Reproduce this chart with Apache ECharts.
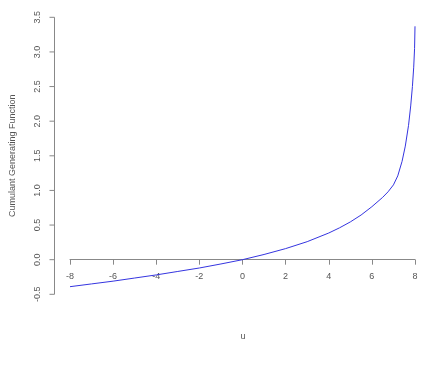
<!DOCTYPE html>
<html>
<head>
<meta charset="utf-8">
<script src="https://cdn.jsdelivr.net/npm/echarts@6/dist/echarts.min.js"></script>
<style>html,body{margin:0;padding:0;background:#fff;}#c{width:421px;height:365px;}</style>
</head>
<body>
<div id="c"></div>
<script>
var uValues = [-8, -7, -6, -5, -4, -3, -2, -1, 0, 1, 2, 3, 4, 4.5, 5, 5.5, 6, 6.5, 6.75, 7, 7.2, 7.4, 7.55, 7.7, 7.8, 7.88, 7.94, 7.98, 8];
var kValues = [-0.39, -0.35, -0.31, -0.265, -0.22, -0.17, -0.12, -0.062, 0, 0.075, 0.16, 0.26, 0.385, 0.46, 0.545, 0.645, 0.765, 0.9, 0.98, 1.08, 1.21, 1.42, 1.64, 1.94, 2.22, 2.5, 2.78, 3.05, 3.37];
var xTicks = [-8, -6, -4, -2, 0, 2, 4, 6, 8];
var yTicks = [-0.5, 0, 0.5, 1, 1.5, 2, 2.5, 3, 3.5];
var xLabel = 'u';
var yLabel = 'Cumulant Generating Function';

var pts = uValues.map(function (u, i) { return [u, kValues[i]]; });
var axisColor = '#888';
var textColor = '#555';
var font = 'Liberation Sans, Arial, sans-serif';
var gridTop = 17.3, gridBottom = 70.7, H = 365;
var plotH = H - gridTop - gridBottom;
var yMin = yTicks[0], yMax = yTicks[yTicks.length - 1];
var zeroOffset = -plotH * (0 - yMin) / (yMax - yMin);
// y-axis line and tick segments, built from the tick list (drawn through the side grid's scales)
var yAxisLinePts = [[1, yMin], [1, yMax]];
var yTickPts = [];
yTicks.forEach(function (t) { yTickPts.push([0, t], [1, t], '-'); });

var chart = echarts.init(document.getElementById('c'), null, {renderer: 'canvas'});
chart.setOption({
  animation: false,
  backgroundColor: '#fff',
  grid: [
    {left: 70, right: 6, top: gridTop, bottom: gridBottom, containLabel: false},
    {left: 49.5, width: 5, top: gridTop, bottom: gridBottom, containLabel: false}
  ],
  xAxis: [{
    gridIndex: 0, type: 'value', min: xTicks[0], max: xTicks[xTicks.length - 1], interval: 2,
    position: 'bottom', offset: zeroOffset,
    axisLine: {show: true, onZero: false, lineStyle: {color: axisColor, width: 1}},
    axisTick: {show: true, length: 5, lineStyle: {color: axisColor}},
    axisLabel: {margin: 12, fontSize: 9, color: textColor, fontFamily: font},
    splitLine: {show: false}
  }, {
    gridIndex: 1, type: 'value', min: 0, max: 1, interval: 1,
    axisLine: {show: false}, axisTick: {show: false}, axisLabel: {show: false}, splitLine: {show: false}
  }],
  yAxis: [{
    gridIndex: 0, type: 'value', min: yMin, max: yMax, interval: 0.5, show: false
  }, {
    gridIndex: 1, type: 'value', min: yMin, max: yMax, interval: 0.5,
    position: 'left',
    axisLine: {show: false}, axisTick: {show: false},
    axisLabel: {margin: 7, fontSize: 9, rotate: 90, color: textColor, fontFamily: font,
      formatter: function (v) { return v.toFixed(1); }},
    splitLine: {show: false},
    name: yLabel, nameLocation: 'middle', nameGap: 32, nameRotate: 90,
    nameTextStyle: {fontSize: 9, color: textColor, fontFamily: font}
  }],
  graphic: [{
    type: 'text', x: 243, y: 337,
    style: {text: xLabel, fontSize: 9, fill: textColor, fontFamily: font, align: 'center', verticalAlign: 'middle'}
  }],
  series: [{
    type: 'line', xAxisIndex: 0, yAxisIndex: 0, data: pts, showSymbol: false, smooth: false,
    lineStyle: {color: '#3535e0', width: 1}, clip: false
  }, {
    type: 'line', xAxisIndex: 1, yAxisIndex: 1, data: yAxisLinePts, showSymbol: false, silent: true,
    lineStyle: {color: axisColor, width: 1}, clip: false
  }, {
    type: 'line', xAxisIndex: 1, yAxisIndex: 1, data: yTickPts, showSymbol: false, silent: true,
    connectNulls: false, lineStyle: {color: axisColor, width: 1}, clip: false
  }]
});
</script>
</body>
</html>
